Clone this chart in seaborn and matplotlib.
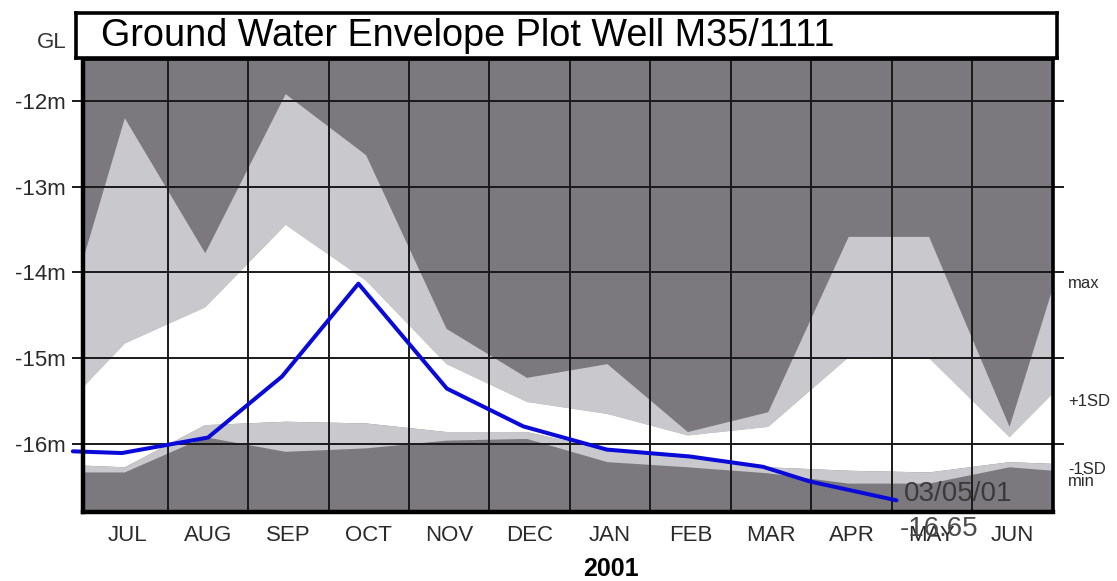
import numpy as np
import pandas as pd
import matplotlib
matplotlib.use("Agg")
import matplotlib.pyplot as plt
import seaborn as sns

# ---------------- data ----------------
months = ["JUL", "AUG", "SEP", "OCT", "NOV", "DEC", "JAN", "FEB", "MAR", "APR", "MAY", "JUN"]
# time axis: months since 1 July 2000 (envelope vertices at mid-month, plus both plot edges)
env_time = [-0.06, 0.46, 1.46, 2.46, 3.46, 4.46, 5.46, 6.46, 7.46, 8.46, 9.46, 10.46, 11.46, 12.0]
env_max = [-13.85, -12.20, -13.77, -11.92, -12.63, -14.65, -15.22, -15.06, -15.85, -15.62, -13.58, -13.58, -15.79, -14.17]
env_plus1sd = [-15.33, -14.82, -14.40, -13.44, -14.09, -15.06, -15.50, -15.64, -15.89, -15.79, -14.98, -14.99, -15.91, -15.40]
env_minus1sd = [-16.24, -16.26, -15.77, -15.73, -15.75, -15.85, -15.85, -16.06, -16.14, -16.26, -16.30, -16.32, -16.20, -16.22]
env_min = [-16.32, -16.32, -15.91, -16.08, -16.04, -15.95, -15.93, -16.20, -16.26, -16.33, -16.45, -16.45, -16.26, -16.30]

obs_time = [-0.18, 0.43, 1.50, 2.42, 3.37, 4.47, 5.42, 6.46, 7.49, 8.40, 8.98, 10.06]
obs_level = [-16.08, -16.10, -15.92, -15.21, -14.13, -15.35, -15.79, -16.06, -16.14, -16.26, -16.43, -16.65]

last_date = "03/05/01"
last_value = "-16.65"
year_label = "2001"
title = "Ground Water Envelope Plot Well M35/1111"
y_ticks = [-12, -13, -14, -15, -16]
y_tick_labels = ["-12m", "-13m", "-14m", "-15m", "-16m"]
band_labels = ["max", "+1SD", "-1SD", "min"]

# ---------------- style ----------------
sns.set_style("white")
plt.rcParams["font.family"] = ["Liberation Sans", "DejaVu Sans"]

DARK = "#7b797e"
LIGHT = "#c9c8cc"
BLUE = "#0a0ad8"
GRID = "#1a1a1a"
TXT = "#2a2a2a"

W, H = 1117, 581
fig = plt.figure(figsize=(W / 100, H / 100), dpi=100)
fig.patch.set_facecolor("white")

def fx(px):
    return px / W

def fy(py):
    return 1 - py / H

L, R, T, B = 82.5, 1052.5, 59, 511.5
ax = fig.add_axes([fx(L), fy(B), fx(R - L), (B - T) / H])
ax.set_facecolor(DARK)

ax.fill_between(env_time, env_max, env_plus1sd, color=LIGHT, lw=0, zorder=1)
ax.fill_between(env_time, env_plus1sd, env_minus1sd, color="white", lw=0, zorder=1)
ax.fill_between(env_time, env_minus1sd, env_min, color=LIGHT, lw=0, zorder=1)

obs = pd.DataFrame({"time": obs_time, "level": obs_level})
sns.lineplot(data=obs, x="time", y="level", color=BLUE, lw=2.9, ax=ax,
             zorder=4, clip_on=False, solid_joinstyle="round", solid_capstyle="round")

ax.set_xlim(-0.06, 12.0)
ax.set_ylim(-16.78, -11.517)

# grid: month boundaries and metre lines
ax.set_xticks(list(range(1, 12)))
ax.set_xticklabels([])
ax.set_xticks([i + 0.5 for i in range(12)], minor=True)
ax.set_xticklabels(months, minor=True)
ax.tick_params(axis="x", which="both", length=0, pad=10, labelsize=16, labelcolor=TXT)
ax.set_yticks(y_ticks)
ax.set_yticklabels(y_tick_labels)
ax.tick_params(axis="y", which="major", left=True, right=True, direction="out",
               length=8, width=1.4, color=GRID, pad=4, labelsize=16, labelcolor=TXT)
ax.grid(True, which="major", color=GRID, lw=1.4)
ax.set_axisbelow(False)
ax.set_xlabel("")
ax.set_ylabel("")
for side in ["left", "bottom"]:
    ax.spines[side].set_linewidth(3.2)
    ax.spines[side].set_color("black")
ax.spines["right"].set_linewidth(2.6)
ax.spines["right"].set_color("black")
ax.spines["top"].set_linewidth(2.0)
ax.spines["top"].set_color("black")
for s in ax.spines.values():
    s.set_zorder(5)

# end-of-record annotation
ax.annotate(last_date, xy=(obs_time[-1], obs_level[-1]), xytext=(7, 6),
            textcoords="offset pixels", ha="left", va="center", fontsize=20,
            color="#3a3a3a", annotation_clip=False, zorder=6)
ax.annotate(last_value, xy=(obs_time[-1], obs_level[-1]), xytext=(3, -29),
            textcoords="offset pixels", ha="left", va="center", fontsize=20,
            color="#4a4a4a", annotation_clip=False, zorder=6)

# band labels on the right
for lab, ypx in zip(band_labels, [283, 401, 469, 482]):
    fig.text(fx(1068), fy(ypx), lab, ha="left", va="center", fontsize=12, color=TXT)

# title box
tax = fig.add_axes([fx(76), fy(58), fx(1057 - 76), (58 - 13) / H])
tax.set_facecolor("white")
tax.set_xticks([])
tax.set_yticks([])
for s in tax.spines.values():
    s.set_linewidth(2.6)
    s.set_color("black")
fig.text(fx(101), fy(36), title, ha="left", va="center", fontsize=27.2, color="black")

fig.text(fx(66.5), fy(42), "GL", ha="right", va="center", fontsize=16, color="#333333")
fig.text(fx(611), fy(569), year_label, ha="center", va="center", fontsize=18,
         fontweight="bold", color="black")

fig.savefig("out.png", dpi=100, facecolor="white")
